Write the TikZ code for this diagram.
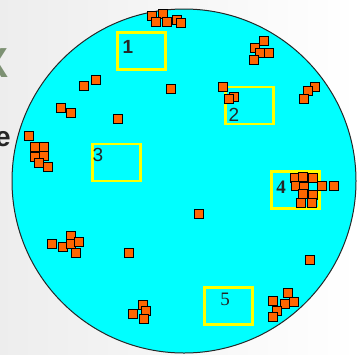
\documentclass[tikz,border=0pt]{standalone}
\usepackage{fontspec}
\setmainfont{Liberation Serif}
\newfontfamily\arialfont{Liberation Sans}
\usetikzlibrary{positioning}
\definecolor{plotcyan}{RGB}{0,255,255}
\definecolor{siteorange}{RGB}{255,102,0}
\definecolor{quadyellow}{RGB}{255,255,0}
\definecolor{remgreen}{RGB}{125,145,115}
\tikzset{
  plotln/.style={line width=1pt, draw=black!85, fill=plotcyan},
  quadbox/.style={draw=quadyellow, line width=2.8pt, minimum width=48pt, minimum height=37pt, inner sep=0pt},
  quadlab/.style={font=\fontsize{19}{19}\selectfont, text=black!85, inner sep=0pt},
}
\newcommand{\sitept}[1]{%
  \filldraw[fill=siteorange, draw=black, line width=1.3pt] #1 ++(-4.6,-4.6) rectangle ++(9.2,9.2);
}

\begin{document}
\begin{tikzpicture}[x=1pt, y=-1pt]
    \useasboundingbox (0,0) rectangle (358,354);
    \shade[left color=black!7, right color=white] (0,0) rectangle (358,354);
    % cut-off letters at the left edge
    \node[font=\arialfont\bfseries\fontsize{42}{42}\selectfont, text=remgreen, anchor=east, inner sep=0pt] (remX) at (9,63) {X};
    \node[font=\arialfont\bfseries\fontsize{28}{28}\selectfont, text=black!85, anchor=east, inner sep=0pt] (remE) at (11,139) {e};
    % study area
    \draw[plotln] (184,181) circle (172);
    % sample quadrats
    \node[quadbox] (q1) at (141.5,51) {};
    \node[quadbox] (q2) at (249.5,105.5) {};
    \node[quadbox] (q3) at (116.5,162.5) {};
    \node[quadbox] (q4) at (295.5,190) {};
    \node[quadbox] (q5) at (228.5,306) {};
    % plant positions
    \foreach \px/\py in {152/16, 163/14, 156/22, 167/22, 177/20, 181/23,
        96/80, 84/86, 171/89, 61/108, 71/113, 118/119,
        29/136, 35/147, 44/147, 35/157, 44/156, 39/163, 48/167,
        264/41, 255/48, 269/53, 260/53, 254/60,
        223/87, 234/97, 229/99, 315/87, 308/91, 304/99,
        52/244, 63/247, 71/236, 71/244, 79/242, 76/253, 129/253,
        143/305, 133/314, 146/311, 144/319,
        199/214, 310/260,
        288/293, 294/302, 285/304, 273/301, 277/311, 273/317,
        295/178, 303/177, 313/178, 296/186, 304/187, 322/186, 334/186,
        303/194, 313/195, 301/203, 312/203}{
      \sitept{(\px,\py)}
    }
    % quadrat numbers
    \node[quadlab, font=\arialfont\bfseries\fontsize{19}{19}\selectfont] (lab1) at (128,47) {1};
    \node[quadlab, font=\arialfont\fontsize{19}{19}\selectfont] (lab2) at (234,115) {2};
    \node[quadlab, font=\arialfont\fontsize{19}{19}\selectfont] (lab3) at (98,155) {3};
    \node[quadlab, font=\bfseries\fontsize{19}{19}\selectfont] (lab4) at (281,187) {4};
    \node[quadlab] (lab5) at (225,299) {5};
  \end{tikzpicture}
\end{document}
